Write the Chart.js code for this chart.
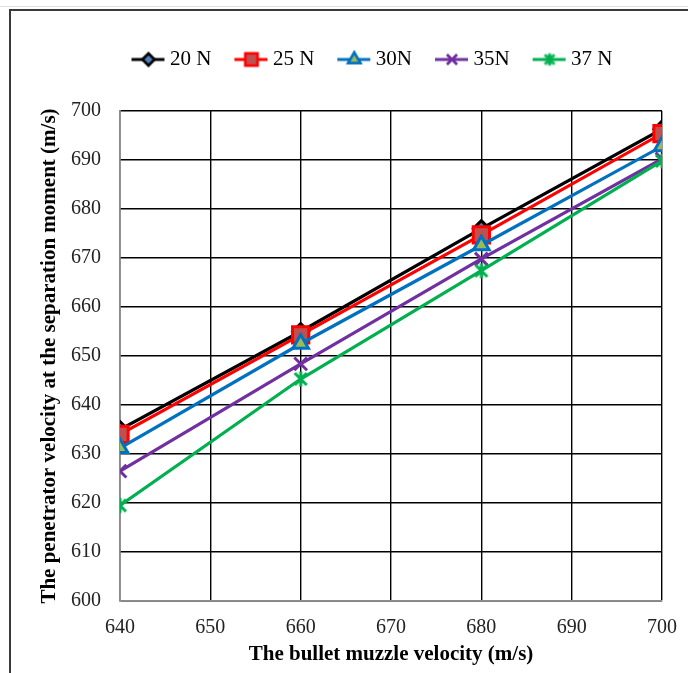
<!DOCTYPE html>
<html>
<head>
<meta charset="utf-8">
<script src="https://cdn.jsdelivr.net/npm/chart.js@4"></script>
<style>
    html, body { margin: 0; padding: 0; background: #fff; }
    #wrap { position: relative; width: 688px; height: 673px; overflow: hidden; }
    #frame { position: absolute; left: 9px; top: 9px; width: 700px; height: 700px;
             border-left: 2px solid #3a3a3a; border-top: 2px solid #3a3a3a; }
    #ruler { position: absolute; left: 0; top: 6px; width: 688px; border-top: 1px solid #e2e2e2; }
    canvas { position: absolute; left: 0; top: 0; }
</style>
</head>
<body>
<div id="wrap">
    <div id="ruler"></div>
    <div id="frame"></div>
    <canvas id="chart" width="688" height="673"></canvas>
</div>
<script>
const muzzleVelocity = [640, 660, 680, 700];
const seriesNames = ['20 N', '25 N', '30N', '35N', '37 N'];
const values20N = [635, 655, 676, 696.3];
const values25N = [634, 654.3, 674.7, 695.4];
const values30N = [631.2, 652.5, 672.6, 692.8];
const values35N = [626.5, 648.4, 669.8, 690.2];
const values37N = [619.5, 645.3, 667.4, 689.8];
const xTickValues = [640, 650, 660, 670, 680, 690, 700];
const yTickValues = [600, 610, 620, 630, 640, 650, 660, 670, 680, 690, 700];

const seriesValues = [values20N, values25N, values30N, values35N, values37N];
const colors = ['#000000', '#ff0000', '#0070c0', '#7030a0', '#00b050'];
const fills = ['#4f81bd', '#c0504d', '#9bbb59', '#7030a0', '#00b050'];
const styles = ['rectRot', 'rect', 'triangle', 'crossRot', 'asterisk'];
const radii = [8, 11.5, 9, 9, 9];
const legendRadii = [6, 8.5, 7, 7, 7];

function asteriskImage(color, size) {
    const c = document.createElement('canvas');
    c.width = size; c.height = size;
    const g = c.getContext('2d');
    g.strokeStyle = color;
    g.lineWidth = 3;
    const m = size / 2, r = size / 2 - 1.5;
    g.beginPath();
    g.moveTo(m - r * 0.8, m - r * 0.8); g.lineTo(m + r * 0.8, m + r * 0.8);
    g.moveTo(m + r * 0.8, m - r * 0.8); g.lineTo(m - r * 0.8, m + r * 0.8);
    g.moveTo(m, m - r); g.lineTo(m, m + r);
    g.stroke();
    return c;
}

function pointStyleFor(i) {
    return styles[i] === 'asterisk' ? asteriskImage(colors[i], 18) : styles[i];
}

// legend swatch: short line with the marker in the middle
function legendImage(i) {
    const c = document.createElement('canvas');
    c.width = 36; c.height = 20;
    const g = c.getContext('2d');
    g.strokeStyle = colors[i];
    g.lineWidth = 3;
    g.beginPath(); g.moveTo(1, 10); g.lineTo(34, 10); g.stroke();
    if (styles[i] === 'asterisk') {
        g.drawImage(asteriskImage(colors[i], 15), 18 - 7.5, 10 - 7.5);
    } else {
        g.fillStyle = fills[i];
        g.lineWidth = 2.5;
        Chart.helpers.drawPoint(g, { pointStyle: styles[i], radius: legendRadii[i], borderWidth: 2.5, rotation: 0 }, 18, 10);
        if (styles[i] !== 'crossRot') g.fill();
        g.stroke();
    }
    return c;
}

const datasets = seriesNames.map((name, i) => ({
    label: name,
    data: muzzleVelocity.map((x, j) => ({ x: x, y: seriesValues[i][j] })),
    borderColor: colors[i],
    backgroundColor: fills[i],
    borderWidth: 3.2,
    pointStyle: pointStyleFor(i),
    pointRadius: radii[i],
    pointBorderWidth: 3,
    pointBorderColor: colors[i],
    pointBackgroundColor: fills[i],
    order: seriesNames.length - i
}));

const shiftLegend = {
    id: 'shiftLegend',
    afterLayout(chart) {
        const dx = 29, dy = -31;
        chart.legend.left += dx;
        chart.legend.right += dx;
        chart.legend.top += dy;
        chart.legend.bottom += dy;
    }
};

const serif = 'Liberation Serif, Times New Roman, serif';

new Chart(document.getElementById('chart').getContext('2d'), {
    type: 'line',
    data: { datasets: datasets },
    plugins: [shiftLegend],
    options: {
        responsive: false,
        animation: false,
        layout: { padding: { left: 30, right: 26, top: 51, bottom: 6 } },
        plugins: {
            legend: {
                position: 'top',
                labels: {
                    usePointStyle: true,
                    pointStyleWidth: 22,
                    padding: 29,
                    color: '#000',
                    font: { family: serif, size: 21 },
                    generateLabels: () => seriesNames.map((name, i) => ({
                        text: name,
                        pointStyle: legendImage(i),
                        fillStyle: fills[i],
                        strokeStyle: colors[i],
                        lineWidth: 0,
                        fontColor: '#000',
                        datasetIndex: i
                    }))
                }
            },
            tooltip: { enabled: false }
        },
        scales: {
            x: {
                type: 'linear',
                min: 640,
                max: 700,
                afterBuildTicks: (scale) => { scale.ticks = xTickValues.map(v => ({ value: v })); },
                afterFit: (scale) => {
                    scale.height = 66;
                    scale.paddingLeft = 0;
                    scale.paddingRight = 0;
                },
                grid: { color: '#000', lineWidth: 1.4, drawTicks: false },
                border: { color: '#8c8c8c', width: 1.5 },
                ticks: { padding: 15, color: '#222', font: { family: serif, size: 20 } },
                title: {
                    display: true,
                    text: 'The bullet muzzle velocity (m/s)',
                    color: '#000',
                    font: { family: serif, size: 21, weight: 'bold' },
                    padding: { top: 0, bottom: 0 }
                }
            },
            y: {
                min: 600,
                max: 700,
                afterBuildTicks: (scale) => { scale.ticks = yTickValues.map(v => ({ value: v })); },
                afterFit: (scale) => { scale.width = 90; },
                grid: { color: '#000', lineWidth: 1.4, drawTicks: false },
                border: { color: '#8c8c8c', width: 1.5 },
                ticks: { padding: 19, color: '#222', font: { family: serif, size: 20 } },
                title: {
                    display: true,
                    text: 'The penetrator velocity at the separation moment (m/s)',
                    color: '#000',
                    font: { family: serif, size: 21, weight: 'bold' },
                    padding: { top: 7, bottom: 0 }
                }
            }
        }
    }
});
</script>
</body>
</html>
